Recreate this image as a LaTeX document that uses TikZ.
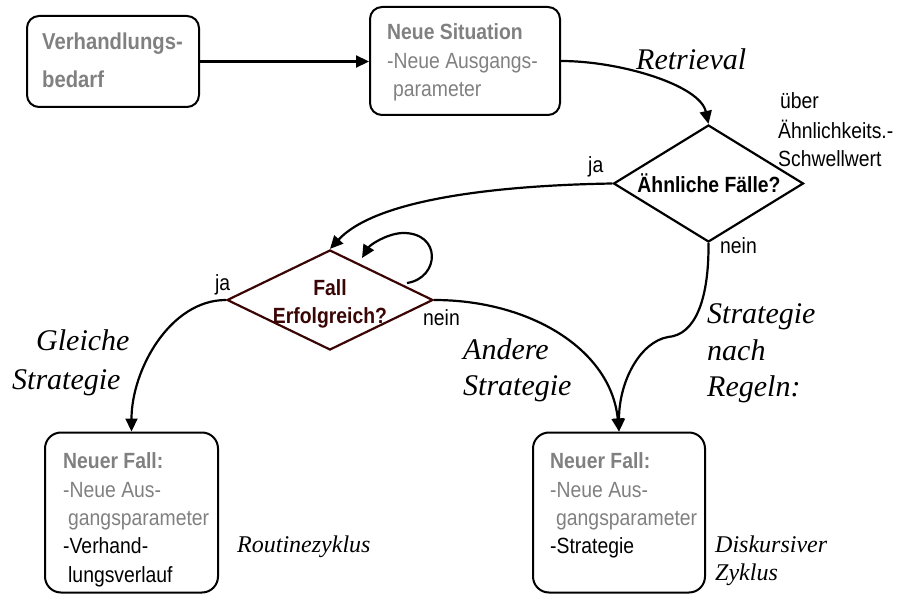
\documentclass[tikz,border=0pt]{standalone}
\usepackage{fontspec}
\setmainfont{Liberation Serif}
\newfontfamily\nsans[FakeStretch=0.88]{Liberation Sans}
\usetikzlibrary{shapes.geometric,arrows.meta,calc}
\definecolor{txtgray}{HTML}{808080}
\definecolor{darkmaroon}{HTML}{3A0505}
\begin{document}
\begin{tikzpicture}[x=1pt,y=-1pt,
  box/.style={draw, line width=2pt, rounded corners=12pt, inner sep=0pt},
  dia/.style={draw, diamond, line width=2.2pt, inner sep=0pt},
  conn/.style={line width=2.2pt, -{Triangle[length=13pt,width=12pt]}},
  lbl/.style={anchor=base west, inner sep=0pt},
  sf/.style={lbl, font=\nsans\fontsize{22}{26}\selectfont},
  gb/.style={sf, text=txtgray, font=\nsans\bfseries\fontsize{22}{26}\selectfont},
  gn/.style={sf, text=txtgray},
  bn/.style={sf, text=black},
  it/.style={lbl, font=\itshape\fontsize{30}{34}\selectfont},
  its/.style={lbl, font=\itshape\fontsize{24}{28}\selectfont}]
\useasboundingbox (0,0) rectangle (898,594);

% boxes
\node[box, minimum width=172pt, minimum height=91pt] (b1) at (113,61.5) {};
\node[box, minimum width=190pt, minimum height=108pt] (b2) at (465,61) {};
\node[box, rounded corners=16pt, minimum width=173pt, minimum height=160pt] (b3) at (131.5,512.5) {};
\node[box, rounded corners=16pt, minimum width=172pt, minimum height=160pt] (b4) at (619,512.5) {};
\node[dia, minimum width=190pt, minimum height=117pt] (d1) at (708.5,183.5) {};
\node[dia, draw=darkmaroon, minimum width=206pt, minimum height=100pt] (d2) at (330,300) {};

% box texts
\node[gb, font=\nsans\bfseries\fontsize{23}{27}\selectfont] (t1a) at (42,50) {Verhandlungs-};
\node[gb, font=\nsans\bfseries\fontsize{23}{27}\selectfont] (t1b) at (42,88) {bedarf};
\node[gb] (t2a) at (387,40) {Neue Situation};
\node[gn] (t2b) at (387,69) {-Neue Ausgangs-};
\node[gn] (t2c) at (393,97) {parameter};

\node[gb] (t3a) at (63,468) {Neuer Fall:};
\node[gn] (t3b) at (63,497) {-Neue Aus-};
\node[gn] (t3c) at (68,525) {gangsparameter};
\node[bn] (t3d) at (63,553) {-Verhand-};
\node[bn] (t3e) at (68,582) {lungsverlauf};

\node[gb] (t4a) at (550,468) {Neuer Fall:};
\node[gn] (t4b) at (550,497) {-Neue Aus-};
\node[gn] (t4c) at (556,525) {gangsparameter};
\node[bn] (t4d) at (550,553) {-Strategie};

% diamond texts
\node[sf, anchor=base, font=\nsans\bfseries\fontsize{22}{26}\selectfont] (q1) at (709,193) {Ähnliche Fälle?};
\node[sf, anchor=base, text=darkmaroon, font=\nsans\bfseries\fontsize{22}{26}\selectfont] (q2a) at (330,295) {Fall};
\node[sf, anchor=base, text=darkmaroon, font=\nsans\bfseries\fontsize{22}{26}\selectfont] (q2b) at (330,323) {Erfolgreich?};

% small labels
\node[bn] (u1) at (780,109) {über};
\node[bn] (u2) at (778,139) {Ähnlichkeits.-};
\node[bn] (u3) at (778,167) {Schwellwert};
\node[bn] (ja1) at (588,172) {ja};
\node[bn] (nein1) at (720,253) {nein};
\node[bn] (ja2) at (215,290) {ja};
\node[bn] (nein2) at (423,325) {nein};

% italic labels
\node[it] (r) at (636,70) {Retrieval};
\node[it] (g1) at (36,350) {Gleiche};
\node[it] (g2) at (12,389) {Strategie};
\node[it] (a1) at (463,359) {Andere};
\node[it] (a2) at (463,395) {Strategie};
\node[it] (s1) at (707,323) {Strategie};
\node[it] (s2) at (707,360) {nach};
\node[it] (s3) at (707,396) {Regeln:};
\node[its] (rz) at (237,552) {Routinezyklus};
\node[its] (dz1) at (715,552) {Diskursiver};
\node[its] (dz2) at (715,580) {Zyklus};

% connectors
\coordinate (loopS) at (407,283);
\coordinate (loopE) at (362,258);
\coordinate (kink) at (668,337);
\draw[conn] (b1.east) -- (b1.east -| b2.west);
\draw[conn] (b2.east) .. controls (620,61) and (700,85) .. (d1.north);
\draw[conn] (d1.west) .. controls (520,185) and (380,195) .. (d2.north);
\draw[conn] (loopS) .. controls (440,278) and (442,232) .. (402,233) .. controls (386,234) and (370,245) .. (loopE);
\draw[conn] (d2.west) .. controls (170,300) and (b3.north |- 0,370) .. (b3.north);
\draw[conn] (d2.east) .. controls (530,300) and ($(b4.north)+(-8,-82)$) .. (b4.north);
\draw[conn] (d1.south) .. controls (709,300) and (695,335) .. (kink) .. controls (640,342) and ($(b4.north)+(0,-50)$) .. (b4.north);
\end{tikzpicture}
\end{document}
